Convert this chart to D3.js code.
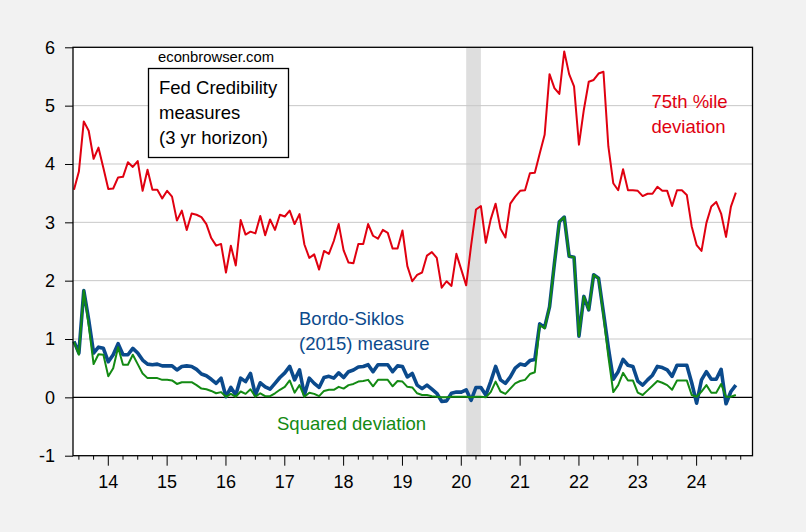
<!DOCTYPE html>
<html><head><meta charset="utf-8">
<script src="https://cdn.jsdelivr.net/npm/d3@7"></script>
<style>body{margin:0;background:#f2f2f2;}svg{display:block;}text{font-family:"Liberation Sans",Arial,sans-serif;}</style>
</head><body>
<svg id="c" width="806" height="532"></svg>
<script>
// Monthly observations starting 2013m6
const startYear = 2013, startMonth = 6;
const pct75 = [3.56,3.87,4.73,4.57,4.09,4.28,3.93,3.57,3.58,3.77,3.78,4.03,3.95,4.05,3.54,3.90,3.56,3.56,3.41,3.54,
3.44,3.03,3.20,2.87,3.15,3.13,3.09,2.97,2.73,2.60,2.63,2.14,2.60,2.26,3.04,2.79,2.84,2.81,3.11,2.78,
3.05,2.87,3.13,3.10,3.20,2.97,3.14,2.62,2.39,2.45,2.19,2.51,2.46,2.68,2.97,2.52,2.31,2.30,2.63,2.63,
2.97,2.77,2.72,2.87,2.82,2.55,2.55,2.86,2.25,1.99,2.10,2.14,2.43,2.49,2.39,1.88,1.99,1.91,2.46,2.19,
1.92,2.60,3.22,3.28,2.65,3.05,3.32,2.89,2.74,3.32,3.44,3.54,3.55,3.84,3.85,4.18,4.50,5.54,5.30,5.20,
5.93,5.54,5.33,4.33,4.93,5.41,5.44,5.55,5.58,4.30,3.67,3.55,3.91,3.55,3.55,3.54,3.45,3.49,3.49,3.61,
3.54,3.54,3.28,3.55,3.55,3.47,2.93,2.61,2.51,2.99,3.27,3.35,3.15,2.75,3.27,3.51];
const bordoSiklos = [0.96,0.76,1.83,1.33,0.76,0.86,0.84,0.61,0.73,0.92,0.73,0.73,0.84,0.76,0.64,0.57,0.56,0.57,0.54,0.54,
0.54,0.47,0.53,0.54,0.53,0.48,0.40,0.37,0.31,0.24,0.33,0.01,0.17,0.04,0.33,0.27,0.41,0.04,0.25,0.18,
0.14,0.24,0.34,0.42,0.53,0.30,0.47,0.04,0.33,0.24,0.17,0.34,0.36,0.33,0.42,0.34,0.44,0.47,0.52,0.53,
0.56,0.44,0.56,0.56,0.56,0.44,0.54,0.53,0.35,0.41,0.21,0.15,0.21,0.14,0.07,-0.07,-0.06,0.07,0.09,0.09,
0.13,-0.05,0.17,0.17,0.04,0.27,0.53,0.30,0.24,0.35,0.50,0.57,0.55,0.63,0.65,1.26,1.20,1.55,2.30,3.01,
3.09,2.42,2.40,1.05,1.73,1.50,2.10,2.04,1.45,0.85,0.31,0.44,0.65,0.55,0.53,0.28,0.21,0.30,0.38,0.53,
0.51,0.47,0.36,0.55,0.55,0.55,0.25,-0.10,0.30,0.44,0.31,0.31,0.48,-0.11,0.10,0.21];
const squaredDev = [0.95,0.73,1.83,1.24,0.57,0.74,0.73,0.36,0.50,0.86,0.56,0.56,0.73,0.57,0.41,0.33,0.33,0.33,0.30,0.30,
0.29,0.23,0.26,0.26,0.26,0.21,0.15,0.14,0.11,0.07,0.09,0.01,0.06,0.01,0.10,0.06,0.14,0.01,0.07,0.02,
0.02,0.07,0.13,0.18,0.29,0.08,0.21,0.01,0.08,0.06,0.02,0.11,0.13,0.13,0.18,0.15,0.21,0.23,0.27,0.28,
0.30,0.19,0.30,0.30,0.30,0.19,0.28,0.27,0.18,0.17,0.07,0.04,0.04,0.02,0.01,0.00,0.00,0.01,0.01,0.01,
0.01,0.00,0.01,0.01,0.00,0.09,0.27,0.10,0.06,0.15,0.24,0.28,0.30,0.40,0.43,1.24,1.18,1.55,2.30,3.01,
3.09,2.42,2.40,1.05,1.73,1.50,2.10,2.04,1.40,0.70,0.09,0.21,0.42,0.29,0.29,0.08,0.04,0.12,0.20,0.28,
0.25,0.21,0.13,0.29,0.29,0.29,0.04,0.01,0.10,0.21,0.08,0.08,0.23,0.01,0.01,0.04];
const yTicks = [-1,0,1,2,3,4,5,6];
const yTickLabels = ["-1","0","1","2","3","4","5","6"];
const yearTicks = [2014,2015,2016,2017,2018,2019,2020,2021,2022,2023,2024];
const yearLabels = ["14","15","16","17","18","19","20","21","22","23","24"];
const recession = [2020 + 1/12, 2020 + 4/12]; // 2020m2-2020m4

const t = i => startYear + (startMonth - 1 + i) / 12;

const svg = d3.select("#c");
const L = 73, R = 752.5, T = 47.3, B = 455.7;
const x = d3.scaleLinear().domain([2013.4, 2024.95]).range([L, R]);
const y = d3.scaleLinear().domain([-1, 6]).range([B, T]);

svg.append("rect").attr("width",806).attr("height",532).attr("fill","#f2f2f2");
svg.append("rect").attr("x",L).attr("y",T).attr("width",R-L).attr("height",B-T).attr("fill","#fff");

// recession shading
svg.append("rect").attr("x",x(recession[0])).attr("y",T).attr("width",x(recession[1])-x(recession[0])).attr("height",B-T).attr("fill","#dedede");

// gridlines
svg.append("g").selectAll("line").data(yTicks.filter(v => v > 0 && v < 6)).join("line")
  .attr("x1",L).attr("x2",R).attr("y1",d=>y(d)).attr("y2",d=>y(d))
  .attr("stroke","#c8c8c8").attr("stroke-width",1);
// zero line
svg.append("line").attr("x1",L).attr("x2",R).attr("y1",y(0)).attr("y2",y(0)).attr("stroke","#000").attr("stroke-width",1.3);

// lines
const mk = arr => d3.line().x((d,i)=>x(t(i))).y(d=>y(d))(arr);
svg.append("path").attr("d",mk(pct75)).attr("fill","none").attr("stroke","#e00010").attr("stroke-width",2).attr("stroke-linejoin","round");
svg.append("path").attr("d",mk(bordoSiklos)).attr("fill","none").attr("stroke","#0b4a8c").attr("stroke-width",3.6).attr("stroke-linejoin","round");
svg.append("path").attr("d",mk(squaredDev)).attr("fill","none").attr("stroke","#138a13").attr("stroke-width",2).attr("stroke-linejoin","round");

// frame
svg.append("rect").attr("x",L).attr("y",T).attr("width",R-L).attr("height",B-T).attr("fill","none").attr("stroke","#000").attr("stroke-width",1.3);

// y axis
const yAxis = d3.axisLeft(y).tickValues(yTicks).tickSize(8).tickPadding(10).tickFormat((d,i)=>yTickLabels[i]);
const ga = svg.append("g").attr("transform",`translate(${L},0)`).call(yAxis);
ga.select(".domain").remove();
ga.selectAll("text").attr("font-size",18).attr("fill","#000").style("font-family","Liberation Sans, Arial, sans-serif");
ga.selectAll("line").attr("stroke","#000");

// x axis: quarterly minor ticks, yearly major ticks with labels
const quarters = [];
for (let q = 2013.5; q < 2024.95; q += 0.25) quarters.push(+q.toFixed(2));
const gx = svg.append("g").attr("transform",`translate(0,${B})`);
gx.selectAll("line.mi").data(quarters.filter(q => !yearTicks.includes(q))).join("line")
  .attr("x1",d=>x(d)).attr("x2",d=>x(d)).attr("y1",0).attr("y2",4).attr("stroke","#000");
gx.selectAll("line.ma").data(yearTicks).join("line")
  .attr("x1",d=>x(d)).attr("x2",d=>x(d)).attr("y1",0).attr("y2",10).attr("stroke","#000");
gx.selectAll("text").data(yearTicks).join("text")
  .attr("x",d=>x(d)).attr("y",32).attr("text-anchor","middle").attr("font-size",18).text((d,i)=>yearLabels[i]);

// annotations
svg.append("text").attr("x",158).attr("y",62).attr("font-size",14.8).text("econbrowser.com");
svg.append("rect").attr("x",148.5).attr("y",68.5).attr("width",140).attr("height",89).attr("fill","#fff").attr("stroke","#000").attr("stroke-width",1.3);
[["Fed Credibility",94],["measures",118.5],["(3 yr horizon)",143.5]].forEach(([s,yy]) =>
  svg.append("text").attr("x",159).attr("y",yy).attr("font-size",18.5).text(s));
[["75th %ile",107.5],["deviation",132.5]].forEach(([s,yy]) =>
  svg.append("text").attr("x",651.5).attr("y",yy).attr("font-size",18.5).attr("fill","#e00010").text(s));
[["Bordo-Siklos",325],["(2015) measure",350]].forEach(([s,yy]) =>
  svg.append("text").attr("x",299).attr("y",yy).attr("font-size",18.5).attr("fill","#0b4a8c").text(s));
svg.append("text").attr("x",277).attr("y",430).attr("font-size",18.5).attr("fill","#138a13").text("Squared deviation");
</script>
</body></html>
